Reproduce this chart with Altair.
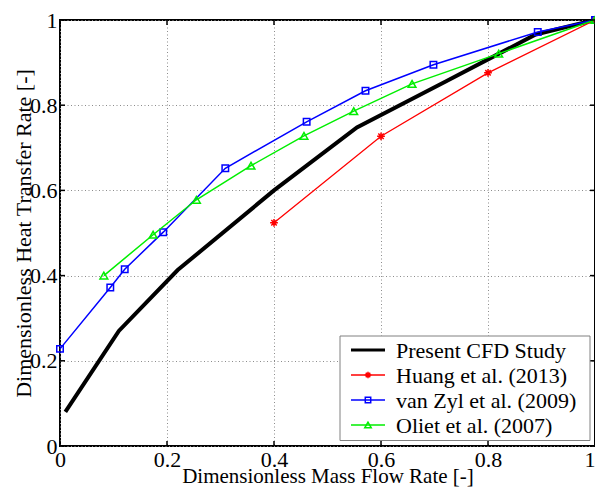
import altair as alt
import pandas as pd

# ---- data ----
cfd_x = [0.01, 0.11, 0.22, 0.40, 0.555, 0.72, 0.889, 1.0]
cfd_y = [0.08, 0.27, 0.413, 0.60, 0.748, 0.855, 0.966, 1.0]

huang_x = [0.40, 0.60, 0.80, 1.0]
huang_y = [0.524, 0.727, 0.876, 1.0]

zyl_x = [0.0, 0.094, 0.121, 0.193, 0.309, 0.461, 0.571, 0.698, 0.893, 1.0]
zyl_y = [0.228, 0.372, 0.415, 0.502, 0.652, 0.761, 0.834, 0.895, 0.972, 1.0]

oliet_x = [0.082, 0.174, 0.255, 0.357, 0.456, 0.549, 0.658, 0.82, 1.0]
oliet_y = [0.40, 0.496, 0.578, 0.658, 0.728, 0.786, 0.850, 0.921, 1.0]

names = ["Present CFD Study", "Huang et al. (2013)", "van Zyl et al. (2009)", "Oliet et al. (2007)"]
colors = ["#000000", "#ff0000", "#0000ff", "#00ee00"]
ticks = [0, 0.2, 0.4, 0.6, 0.8, 1.0]

PAD_L, PAD_T = 52, 12
W, H = 535, 426
CANVAS_W, CANVAS_H = 587, 479
FONT = "Liberation Serif"
ASTER = "M-1,0L1,0M0,-1L0,1M-0.7,-0.7L0.7,0.7M-0.7,0.7L0.7,-0.7"

series = [
    (names[0], cfd_x, cfd_y, colors[0], 4, None, 0),
    (names[1], huang_x, huang_y, colors[1], 1.3, ASTER, 60),
    (names[2], zyl_x, zyl_y, colors[2], 1.5, "square", 42),
    (names[3], oliet_x, oliet_y, colors[3], 1.5, "triangle-up", 60),
]

xs = alt.Scale(domain=[0, 1], nice=False)
ys = alt.Scale(domain=[0, 1], nice=False)

layers = []
first = True
for name, sx, sy, col, sw, shape, size in series:
    df = pd.DataFrame({"x": sx, "y": sy})
    if first:
        xenc = alt.X("x:Q", scale=xs, axis=alt.Axis(
            title="Dimensionless Mass Flow Rate [-]", values=ticks, format="~g",
            titleY=36, titleBaseline="alphabetic", titleFontSize=21,
            labelBaseline="alphabetic", labelPadding=20,
            labelAlign=alt.expr("datum.value >= 1 ? 'right' : 'center'")))
        yenc = alt.Y("y:Q", scale=ys, axis=alt.Axis(
            title="Dimensionless Heat Transfer Rate [-]", values=ticks, format="~g",
            titleX=-30, titleY=H / 2, titleAngle=-90, titleBaseline="alphabetic",
            labelPadding=3))
        first = False
    else:
        xenc = alt.X("x:Q", scale=xs)
        yenc = alt.Y("y:Q", scale=ys)
    layers.append(alt.Chart(df).mark_line(color=col, strokeWidth=sw).encode(x=xenc, y=yenc))
    if shape:
        layers.append(alt.Chart(df).mark_point(shape=shape, size=size, color=col, filled=False,
                                               strokeWidth=1.5, opacity=1).encode(x="x:Q", y="y:Q"))

# inward tick marks on all four sides
tdf = pd.DataFrame({"x": ticks, "y": ticks})
tk = dict(color="black", strokeWidth=1.5)
layers += [
    alt.Chart(tdf).mark_rule(**tk).encode(x="x:Q", y=alt.value(H), y2=alt.value(H - 5)),
    alt.Chart(tdf).mark_rule(**tk).encode(x="x:Q", y=alt.value(0), y2=alt.value(5)),
    alt.Chart(tdf).mark_rule(**tk).encode(y="y:Q", x=alt.value(0), x2=alt.value(5)),
    alt.Chart(tdf).mark_rule(**tk).encode(y="y:Q", x=alt.value(W), x2=alt.value(W - 5)),
]

# legend (positioned relative to the plot's lower right corner)
one = pd.DataFrame({"a": [0]})
layers.append(alt.Chart(one).mark_rect(fill="white", stroke="#808080", strokeWidth=1).encode(
    x=alt.value(W - 255), x2=alt.value(W - 5), y=alt.value(H - 110), y2=alt.value(H - 5.5)))
rows = [H - 96, H - 71, H - 46, H - 21]
for (name, sx, sy, col, sw, shape, size), ry in zip(series, rows):
    layers.append(alt.Chart(one).mark_rule(color=col, strokeWidth=3 if sw > 2 else sw).encode(
        x=alt.value(W - 244), x2=alt.value(W - 210), y=alt.value(ry)))
    if shape:
        layers.append(alt.Chart(one).mark_point(shape=shape, size=size * 0.7, color=col, filled=False,
                                                strokeWidth=1.5, opacity=1).encode(
            x=alt.value(W - 227), y=alt.value(ry)))
    layers.append(alt.Chart(pd.DataFrame({"t": [name]})).mark_text(
        align="left", baseline="middle", font=FONT, fontSize=22, color="black").encode(
        x=alt.value(W - 199), y=alt.value(ry + 1), text="t:N"))

chart = alt.layer(*layers).properties(
    width=W, height=H,
    padding={"left": PAD_L, "top": PAD_T,
             "right": CANVAS_W - PAD_L - W, "bottom": CANVAS_H - PAD_T - H},
    autosize=alt.AutoSizeParams(type="none"),
).configure_view(stroke="black", strokeWidth=2).configure_axis(
    domain=False, ticks=False, grid=True, gridColor="#8c8c8c", gridDash=[1, 2.5], gridWidth=1,
    labelFont=FONT, labelFontSize=22, labelColor="black",
    titleFont=FONT, titleFontSize=22, titleFontWeight="normal", titleColor="black",
)

chart.save("out.html", embed_options={"renderer": "svg", "actions": False})
